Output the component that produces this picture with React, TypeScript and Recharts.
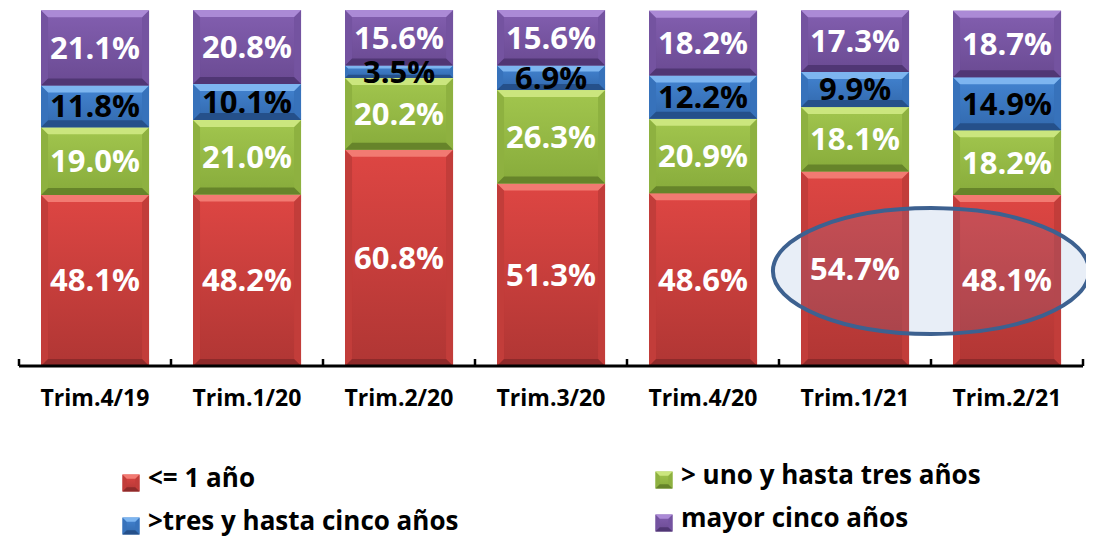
import React from 'react';
import { BarChart, Bar, XAxis, YAxis, LabelList, Legend, ReferenceArea } from 'recharts';

const categories = ['Trim.4/19', 'Trim.1/20', 'Trim.2/20', 'Trim.3/20', 'Trim.4/20', 'Trim.1/21', 'Trim.2/21'];
const hastaUnAno = [48.1, 48.2, 60.8, 51.3, 48.6, 54.7, 48.1];
const unoATres = [19.0, 21.0, 20.2, 26.3, 20.9, 18.1, 18.2];
const tresACinco = [11.8, 10.1, 3.5, 6.9, 12.2, 9.9, 14.9];
const mayorCinco = [21.1, 20.8, 15.6, 15.6, 18.2, 17.3, 18.7];
const seriesNames = ['<= 1 año', '> uno y hasta tres años', '>tres y hasta cinco años', 'mayor cinco años'];
const highlight = { from: 'Trim.1/21', to: 'Trim.2/21', low: 9, high: 44.4 };

const data = categories.map((c, i) => ({
  cat: c,
  s0: hastaUnAno[i],
  s1: unoATres[i],
  s2: tresACinco[i],
  s3: mayorCinco[i],
}));

const styles = [
  { id: 'r', top: '#de4643', btm: '#b03634', bevel: '#f27a72', side: '#c23d3a', bottom: '#8e2a2a', text: '#ffffff' },
  { id: 'g', top: '#a2c64e', btm: '#87ab3b', bevel: '#cbe67e', side: '#8eb140', bottom: '#66842a', text: '#ffffff' },
  { id: 'b', top: '#4384d2', btm: '#3269ad', bevel: '#7db5f0', side: '#3772bb', bottom: '#25508a', text: '#000000' },
  { id: 'p', top: '#835fb0', btm: '#6a4a92', bevel: '#ab8ad6', side: '#7453a0', bottom: '#503674', text: '#ffffff' },
];

const FONT = '"Open Sans", "DejaVu Sans", sans-serif';

const makeShape = (s: any) => (props: any) => {
  const { x, y, width, height } = props;
  if (!height || height <= 0 || !width) return <g />;
  const b = Math.min(7, height / 4, width / 4);
  const x2 = x + width;
  const y2 = y + height;
  return (
    <g>
      <rect x={x} y={y} width={width} height={height} fill={`url(#grad-${s.id})`} />
      <polygon points={`${x},${y} ${x + b},${y + b} ${x + b},${y2 - b} ${x},${y2}`} fill={s.side} />
      <polygon points={`${x2},${y} ${x2 - b},${y + b} ${x2 - b},${y2 - b} ${x2},${y2}`} fill={s.side} />
      <polygon points={`${x},${y} ${x2},${y} ${x2 - b},${y + b} ${x + b},${y + b}`} fill={s.bevel} />
      <polygon points={`${x},${y2} ${x2},${y2} ${x2 - b},${y2 - b} ${x + b},${y2 - b}`} fill={s.bottom} />
    </g>
  );
};

const EllipseShape = (props: any) => {
  const { x, y, width, height } = props;
  if (x == null || y == null) return <g />;
  const cx = x + width / 2;
  const cy = y + height / 2;
  return (
    <ellipse
      cx={cx}
      cy={cy}
      rx={width * 0.52}
      ry={height / 2}
      fill="rgb(100,140,200)"
      fillOpacity={0.15}
      stroke="#3d6190"
      strokeWidth={4}
    />
  );
};

const AxisTick = (props: any) => {
  const { x, y, payload, index } = props;
  const off = payload && typeof payload.offset === 'number' ? payload.offset : 0;
  return (
    <g>
      {off > 0 && <line x1={x - off} y1={y} x2={x - off} y2={y - 7} stroke="#000" strokeWidth={2.5} />}
      {off > 0 && index === categories.length - 1 && (
        <line x1={x + off} y1={y} x2={x + off} y2={y - 7} stroke="#000" strokeWidth={2.5} />
      )}
      <text x={x} y={y + 40} textAnchor="middle" fontFamily={FONT} fontWeight={700} fontSize={23} fill="#000">
        {payload.value}
      </text>
    </g>
  );
};

const LegendIcon = ({ s }: any) => (
  <svg width={18} height={18} style={{ display: 'block', marginTop: 12, marginRight: 8 }}>
    {makeShape(s)({ x: 0.5, y: 0.5, width: 17, height: 17 })}
  </svg>
);

const legendOrder = [
  { idx: 0, left: 114, top: 36 },
  { idx: 1, left: 647, top: 33 },
  { idx: 2, left: 114, top: 79 },
  { idx: 3, left: 647, top: 76 },
];

const renderLegend = () => (
  <div style={{ position: 'relative', height: 112, width: 1086 }}>
    {legendOrder.map((o) => (
      <div
        key={o.idx}
        style={{
          position: 'absolute',
          left: o.left,
          top: o.top,
          display: 'flex',
          alignItems: 'center',
          fontFamily: FONT,
          fontWeight: 700,
          fontSize: 26,
          lineHeight: '34px',
          color: '#000',
          whiteSpace: 'nowrap',
        }}
      >
        <LegendIcon s={styles[o.idx]} />
        <span>{seriesNames[o.idx]}</span>
      </div>
    ))}
  </div>
);

const fmt = (v: any) => `${Number(v).toFixed(1)}%`;

export default function App() {
  return (
    <div style={{ width: 1086, height: 528 }}>
      <svg width={0} height={0} style={{ position: 'absolute' }}>
        <defs>
          {styles.map((s) => (
            <linearGradient key={s.id} id={`grad-${s.id}`} x1="0" y1="0" x2="0" y2="1">
              <stop offset="0%" stopColor={s.top} />
              <stop offset="100%" stopColor={s.btm} />
            </linearGradient>
          ))}
        </defs>
      </svg>
      <BarChart
        width={1086}
        height={528}
        data={data}
        margin={{ top: 2, right: 11, left: 11, bottom: 0 }}
        barCategoryGap="14.5%"
        style={{ fontFamily: FONT }}
      >
        <XAxis
          dataKey="cat"
          height={58}
          tickSize={0}
          tickMargin={0}
          tickLine={false}
          axisLine={{ stroke: '#000', strokeWidth: 3 }}
          tick={<AxisTick />}
          interval={0}
        />
        <YAxis hide domain={[0, 100]} />
        {styles.map((s, i) => (
          <Bar
            key={s.id}
            dataKey={`s${i}`}
            name={seriesNames[i]}
            stackId="a"
            fill={s.top}
            shape={makeShape(s)}
            isAnimationActive={false}
          >
            <LabelList
              dataKey={`s${i}`}
              position="center"
              formatter={fmt}
              fill={s.text}
              style={{ fontFamily: FONT, fontWeight: 700, fontSize: 31 }}
            />
          </Bar>
        ))}
        <ReferenceArea
          x1={highlight.from}
          x2={highlight.to}
          y1={highlight.low}
          y2={highlight.high}
          shape={<EllipseShape />}
          ifOverflow="visible"
          zIndex={1500}
        />
        <Legend verticalAlign="bottom" content={renderLegend} wrapperStyle={{ left: 0, width: 1086, height: 112 }} />
      </BarChart>
    </div>
  );
}
